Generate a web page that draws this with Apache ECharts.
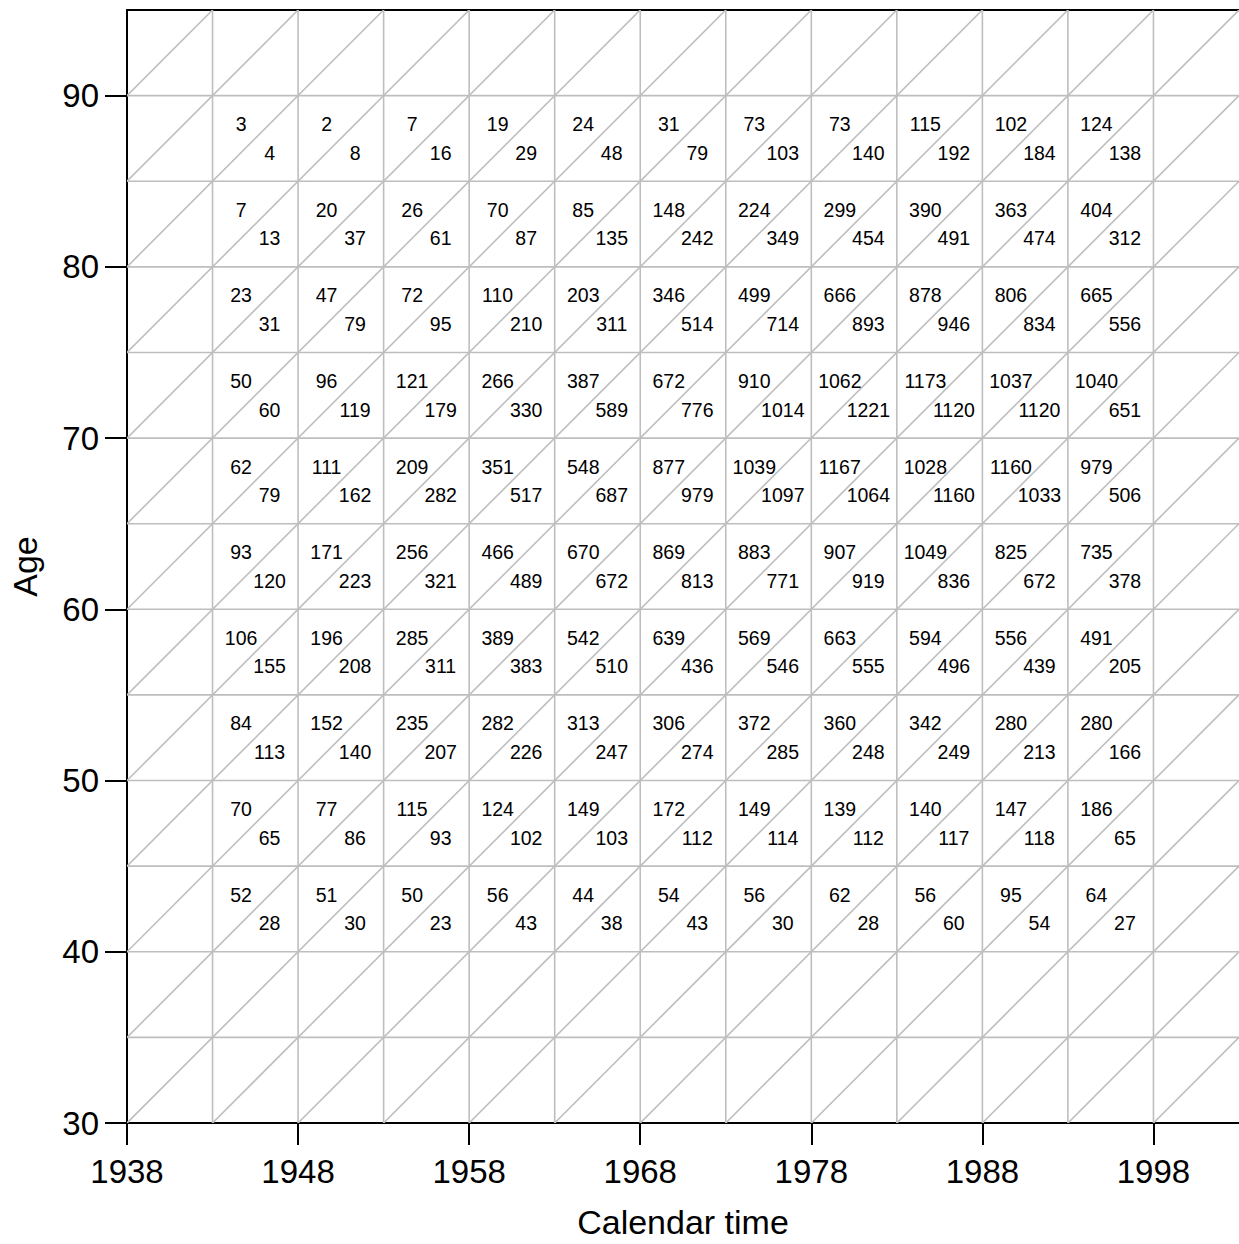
<!DOCTYPE html>
<html><head><meta charset="utf-8">
<script src="https://cdn.jsdelivr.net/npm/echarts@6/dist/echarts.min.js"></script>
<style>html,body{margin:0;padding:0;background:#fff;overflow:hidden}#c{width:1239px;height:1244px}</style>
</head><body><div id="c"></div>
<script>
// Lexis diagram data
const periods = [1943, 1948, 1953, 1958, 1963, 1968, 1973, 1978, 1983, 1988, 1993]; // cell start year
const ages = [85, 80, 75, 70, 65, 60, 55, 50, 45, 40]; // cell start age, top row first
const cellSize = 5;
// upper-left triangle counts (rows top -> bottom, columns left -> right)
const upperCounts = [
  [3, 2, 7, 19, 24, 31, 73, 73, 115, 102, 124],
  [7, 20, 26, 70, 85, 148, 224, 299, 390, 363, 404],
  [23, 47, 72, 110, 203, 346, 499, 666, 878, 806, 665],
  [50, 96, 121, 266, 387, 672, 910, 1062, 1173, 1037, 1040],
  [62, 111, 209, 351, 548, 877, 1039, 1167, 1028, 1160, 979],
  [93, 171, 256, 466, 670, 869, 883, 907, 1049, 825, 735],
  [106, 196, 285, 389, 542, 639, 569, 663, 594, 556, 491],
  [84, 152, 235, 282, 313, 306, 372, 360, 342, 280, 280],
  [70, 77, 115, 124, 149, 172, 149, 139, 140, 147, 186],
  [52, 51, 50, 56, 44, 54, 56, 62, 56, 95, 64]
];
// lower-right triangle counts
const lowerCounts = [
  [4, 8, 16, 29, 48, 79, 103, 140, 192, 184, 138],
  [13, 37, 61, 87, 135, 242, 349, 454, 491, 474, 312],
  [31, 79, 95, 210, 311, 514, 714, 893, 946, 834, 556],
  [60, 119, 179, 330, 589, 776, 1014, 1221, 1120, 1120, 651],
  [79, 162, 282, 517, 687, 979, 1097, 1064, 1160, 1033, 506],
  [120, 223, 321, 489, 672, 813, 771, 919, 836, 672, 378],
  [155, 208, 311, 383, 510, 436, 546, 555, 496, 439, 205],
  [113, 140, 207, 226, 247, 274, 285, 248, 249, 213, 166],
  [65, 86, 93, 102, 103, 112, 114, 112, 117, 118, 65],
  [28, 30, 23, 43, 38, 43, 30, 28, 60, 54, 27]
];
const xTickLabels = [1938, 1948, 1958, 1968, 1978, 1988, 1998];
const yTickLabels = [30, 40, 50, 60, 70, 80, 90];
const xRange = [1938, 2003];
const yRange = [30, 95];
const gridYears = [1943, 1948, 1953, 1958, 1963, 1968, 1973, 1978, 1983, 1988, 1993, 1998];
const gridAges = [35, 40, 45, 50, 55, 60, 65, 70, 75, 80, 85, 90];

// build line segments (grid + diagonals) in data units
const segs = [];
gridYears.forEach(x => segs.push([x, yRange[0], x, yRange[1]]));
gridAges.forEach(y => segs.push([xRange[0], y, xRange[1], y]));
for (let k = -12; k <= 12; k++) {
  const c = (xRange[0] - yRange[0]) + cellSize * k; // x - y = c
  let x1, y1, x2, y2;
  if (c + yRange[0] >= xRange[0]) { x1 = c + yRange[0]; y1 = yRange[0]; } else { x1 = xRange[0]; y1 = xRange[0] - c; }
  if (c + yRange[1] <= xRange[1]) { x2 = c + yRange[1]; y2 = yRange[1]; } else { x2 = xRange[1]; y2 = xRange[1] - c; }
  segs.push([x1, y1, x2, y2]);
}

// labels at triangle centroids
const labels = [];
ages.forEach((a, i) => {
  periods.forEach((p, j) => {
    labels.push([p + cellSize / 3, a + 2 * cellSize / 3, upperCounts[i][j]]);
    labels.push([p + 2 * cellSize / 3, a + cellSize / 3, lowerCounts[i][j]]);
  });
});

const FONT = '"Liberation Sans", Arial, Helvetica, sans-serif';
const chart = echarts.init(document.getElementById('c'), null, { renderer: 'svg' });
chart.setOption({
  animation: false,
  backgroundColor: '#fff',
  grid: { left: 127, top: 10, right: -3, bottom: 121, show: false },
  xAxis: [{
    type: 'value', min: xRange[0], max: xRange[1], interval: 10, position: 'bottom',
    name: 'Calendar time', nameLocation: 'middle', nameGap: 99,
    nameTextStyle: { fontSize: 34, color: '#000', fontFamily: FONT, verticalAlign: 'middle' },
    axisLine: { show: true, onZero: false, lineStyle: { color: '#000', width: 2 } },
    axisTick: { show: true, length: 22, lineStyle: { color: '#000', width: 2 }, customValues: xTickLabels },
    axisLabel: { show: true, fontSize: 33, color: '#000', fontFamily: FONT, margin: 32, customValues: xTickLabels, formatter: v => String(v) },
    splitLine: { show: false }
  }, {
    type: 'value', min: xRange[0], max: xRange[1], position: 'top',
    axisLine: { show: true, onZero: false, lineStyle: { color: '#000', width: 2 } },
    axisTick: { show: false }, axisLabel: { show: false }, splitLine: { show: false }
  }],
  yAxis: {
    type: 'value', min: yRange[0], max: yRange[1], interval: 10,
    name: 'Age', nameLocation: 'middle', nameGap: 102, nameRotate: 90,
    nameTextStyle: { fontSize: 34, color: '#000', fontFamily: FONT, verticalAlign: 'middle' },
    axisLine: { show: true, onZero: false, lineStyle: { color: '#000', width: 2 } },
    axisTick: { show: true, length: 22, lineStyle: { color: '#000', width: 2 }, customValues: yTickLabels },
    axisLabel: { show: true, fontSize: 33, color: '#000', fontFamily: FONT, margin: 28, customValues: yTickLabels, formatter: v => String(v) },
    splitLine: { show: false }
  },
  series: [
    {
      type: 'custom', data: segs, encode: { x: [0, 2], y: [1, 3] }, clip: true, z: 1,
      renderItem: function (params, api) {
        const p1 = api.coord([api.value(0), api.value(1)]);
        const p2 = api.coord([api.value(2), api.value(3)]);
        return { type: 'line', shape: { x1: p1[0], y1: p1[1], x2: p2[0], y2: p2[1] }, style: { stroke: '#bebebe', lineWidth: 1.6 } };
      }
    },
    {
      type: 'custom', data: labels, encode: { x: 0, y: 1 }, z: 3,
      renderItem: function (params, api) {
        const p = api.coord([api.value(0), api.value(1)]);
        return { type: 'text', x: p[0], y: p[1], style: { text: String(api.value(2)), fill: '#000', fontSize: 19.5, fontFamily: FONT, align: 'center', verticalAlign: 'middle' } };
      }
    }
  ]
});
</script>
</body></html>
